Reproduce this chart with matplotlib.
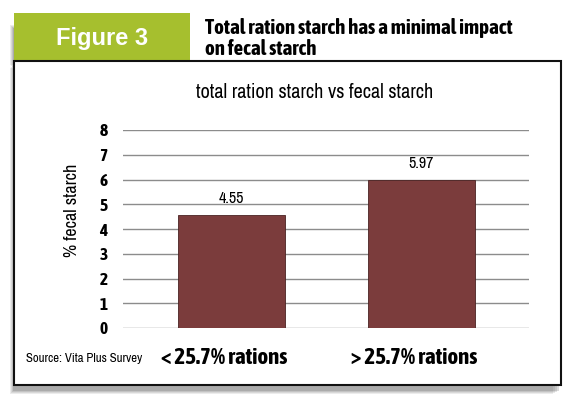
import matplotlib.pyplot as plt
from matplotlib.patches import Rectangle

# data
groups = ['< 25.7% rations', '> 25.7% rations']
fecal_starch = [4.55, 5.97]
yticks = [0, 1, 2, 3, 4, 5, 6, 7, 8]

narrow = ['Archivo Narrow', 'DejaVu Sans']
narrow_bold = ['Asap Condensed', 'DejaVu Sans']
W, H = 575, 407

fig = plt.figure(figsize=(W / 100, H / 100), dpi=100)

# background layer in pixel coords
bg = fig.add_axes([0, 0, 1, 1], zorder=0)
bg.set_xlim(0, W)
bg.set_ylim(H, 0)
bg.axis('off')

# soft shadow (left and below)
for i, a in enumerate([0.10, 0.12, 0.15, 0.2]):
    d = 4 - i
    bg.add_patch(Rectangle((14 - d, 25 - d + 4), 176, 40, color='0.3', alpha=a, lw=0))
    bg.add_patch(Rectangle((14 - d, 64 + d), 547 - d, 325 + 1, color='0.3', alpha=a, lw=0))

# green figure tab
bg.add_patch(Rectangle((14, 13), 176, 48, facecolor='#a6bf2e', edgecolor='none'))
bg.text(102, 38, 'Figure 3', color='white', fontsize=17, fontweight='bold',
        family='Liberation Sans', ha='center', va='center')
bg.text(205, 28, 'Total ration starch has a minimal impact', fontsize=15,
        fontweight='bold', family=narrow_bold, ha='left', va='center')
bg.text(205, 49, 'on fecal starch', fontsize=15,
        fontweight='bold', family=narrow_bold, ha='left', va='center')

# white frame
bg.add_patch(Rectangle((14, 61), 547, 324, facecolor='white', edgecolor='#111111', lw=1.5))
bg.text(315, 92, 'total ration starch vs fecal starch', fontsize=14.5,
        family=narrow, ha='center', va='center')
bg.text(26, 359, 'Source: Vita Plus Survey', fontsize=9.2,
        family=narrow, ha='left', va='center')
bg.text(72, 210, '% fecal starch', fontsize=13, family=narrow,
        rotation=90, ha='center', va='center')

# chart
ax = fig.add_axes([123 / W, 1 - 328 / H, 406 / W, 198 / H], zorder=1)
ax.set_facecolor('none')
x = list(range(len(groups)))
bars = ax.bar(x, fecal_starch, width=0.563, color='#7b3c3c', edgecolor='#4a2222',
              linewidth=0.6, zorder=3)
for b, v in zip(bars, fecal_starch):
    ax.annotate(f'{v:.2f}', (b.get_x() + b.get_width() / 2, v), xytext=(0, 12),
                textcoords='offset points', ha='center', va='center',
                fontsize=11.5, family=narrow)

ax.set_xlim(-0.571, 1.566)
ax.set_ylim(0, 8)
ax.set_yticks(yticks)
ax.set_yticklabels([str(t) for t in yticks], fontsize=12.5, fontweight='bold', family=narrow_bold)
# category labels sit a little left of the bar centres in the original
ax.set_xticks([i - 0.04 for i in x])
ax.set_xticklabels(groups, fontsize=16.5, fontweight='bold', family=narrow_bold)
ax.tick_params(axis='y', length=0, pad=11)
ax.tick_params(axis='x', length=0, pad=14)
ax.yaxis.grid(True, color='#8c8c8c', linewidth=1.0, zorder=0)
for s in ax.spines.values():
    s.set_visible(False)

fig.savefig('out.png', dpi=100)
